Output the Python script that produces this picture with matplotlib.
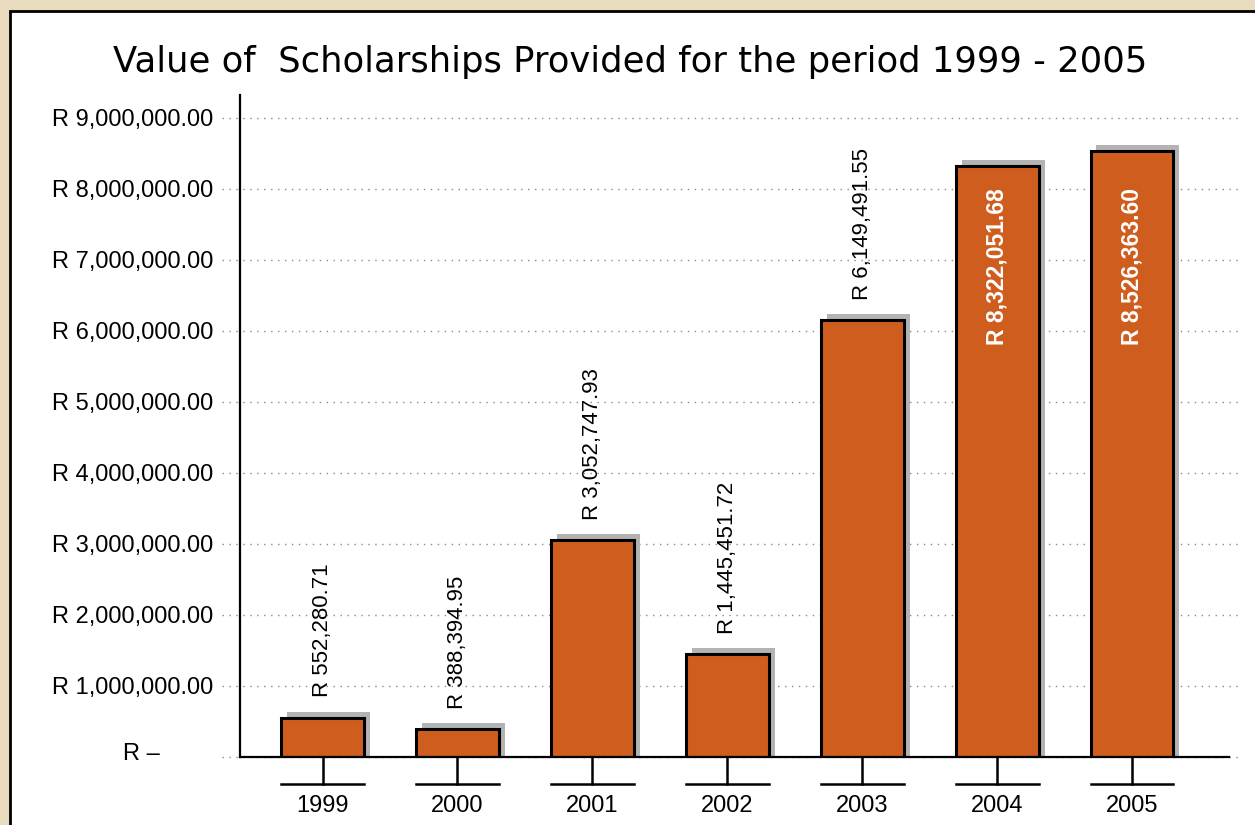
import matplotlib
matplotlib.use("Agg")
import matplotlib.pyplot as plt
from matplotlib.patches import Rectangle

# data
years = ["1999", "2000", "2001", "2002", "2003", "2004", "2005"]
values = [552280.71, 388394.95, 3052747.93, 1445451.72, 6149491.55, 8322051.68, 8526363.60]
value_labels = ["R 552,280.71", "R 388,394.95", "R 3,052,747.93", "R 1,445,451.72",
                "R 6,149,491.55", "R 8,322,051.68", "R 8,526,363.60"]
ytick_vals = [1e6, 2e6, 3e6, 4e6, 5e6, 6e6, 7e6, 8e6, 9e6]
ytick_labels = ["R 1,000,000.00", "R 2,000,000.00", "R 3,000,000.00", "R 4,000,000.00",
                "R 5,000,000.00", "R 6,000,000.00", "R 7,000,000.00", "R 8,000,000.00",
                "R 9,000,000.00"]
inside_labels = ["2004", "2005"]  # these get white bold labels inside the bar

plt.rcParams['font.family'] = ['Liberation Sans', 'DejaVu Sans']

fig = plt.figure(figsize=(12.55, 8.25), dpi=100)
fig.patch.set_facecolor('#e8dbbe')

# white panel with black border (runs off the right and bottom edges)
panel = Rectangle((10 / 1255, -0.1), 1.2, 1.1 - 11.5 / 825,
                  transform=fig.transFigure, facecolor='white',
                  edgecolor='black', linewidth=2.0, zorder=-5)
fig.patches.append(panel)

ax = fig.add_axes([240 / 1255, 1 - 757 / 825, (1229 - 240) / 1255, (757 - 95) / 825])
ax.set_facecolor('none')

x = list(range(len(years)))
bar_w = 0.615
dx = 0.044
dy = 0.085e6

# gray drop shadows
ax.bar([i + dx for i in x], [v + dy for v in values], width=bar_w,
       color='#b3b3b3', linewidth=0, zorder=2)
# bars
ax.bar(x, values, width=bar_w, color='#cf5e1e', edgecolor='black',
       linewidth=2.2, zorder=3)

# dotted gridlines (they reach a little past both axis ends)
for yv in [0] + ytick_vals:
    ax.plot([-0.746, 6.786], [yv, yv], linestyle=(0, (1, 4)), color='#8a8a8a',
            linewidth=1.0, clip_on=False, zorder=1)

ax.set_xlim(-0.612, 6.719)
ax.set_ylim(0, 9.32e6)

ax.set_yticks(ytick_vals)
ax.set_yticklabels(ytick_labels, fontsize=17)
ax.tick_params(axis='y', length=0, pad=19)
ax.set_xticks([])
ax.text(-1.346, 0.04e6, "R \u2013", fontsize=17, ha='center', va='center',
        clip_on=False)

for s in ['top', 'right']:
    ax.spines[s].set_visible(False)
ax.spines['left'].set_linewidth(1.6)
ax.spines['bottom'].set_linewidth(1.6)
ax.spines['bottom'].set_zorder(4)

# the odd T-shaped ticks under each year
for i, yr in zip(x, years):
    ax.plot([i, i], [0, -0.38e6], color='black', linewidth=1.8, clip_on=False)
    ax.plot([i - bar_w / 2, i + bar_w / 2], [-0.38e6, -0.38e6], color='black',
            linewidth=1.8, clip_on=False)
    ax.text(i, -0.775e6, yr, fontsize=17, ha='center', va='baseline', clip_on=False)

# value labels
for i, v, lab, yr in zip(x, values, value_labels, years):
    if yr in inside_labels:
        ax.text(i, 6.9e6, lab, rotation=90, ha='center', va='center',
                fontsize=16.5, fontweight='bold', color='white', zorder=5)
    else:
        ax.text(i, v + 0.29e6, lab, rotation=90, ha='center', va='bottom',
                fontsize=16, color='black', zorder=5)

fig.text(0.502, 1 - 72 / 825, "Value of  Scholarships Provided for the period 1999 - 2005",
         fontsize=25.5, ha='center', va='baseline', family='DejaVu Sans')

fig.savefig("out.png", dpi=100, facecolor=fig.get_facecolor())
